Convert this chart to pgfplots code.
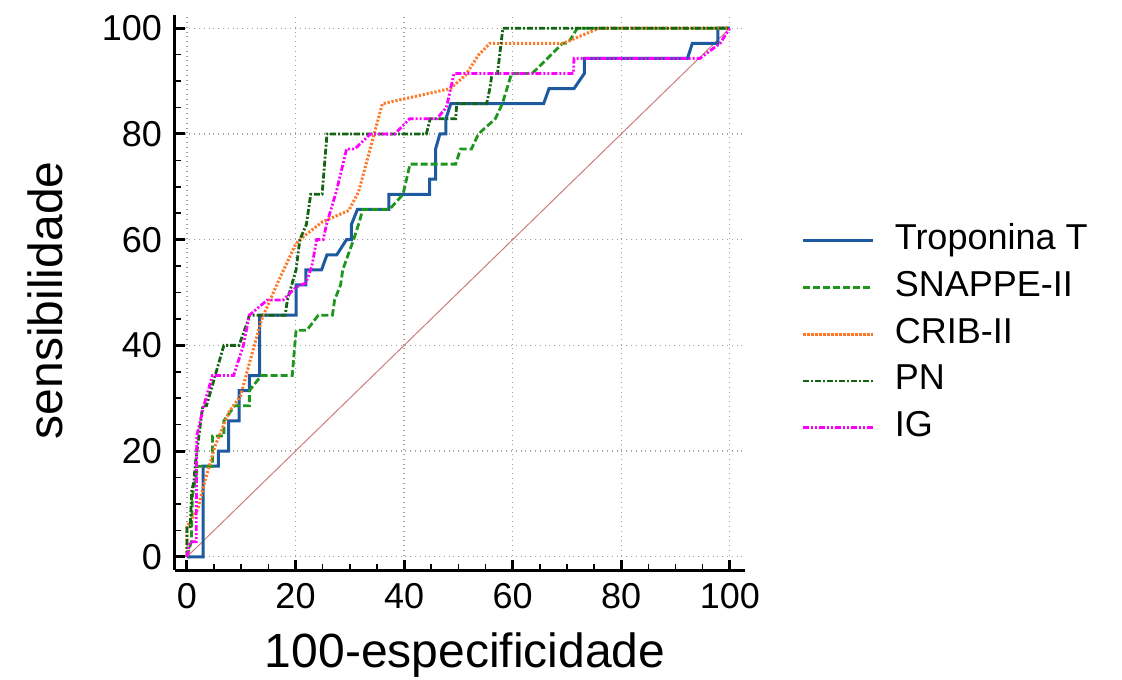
\documentclass[border=0pt]{standalone}
\usepackage{fontspec}
\setmainfont{Liberation Sans}
\usepackage{pgfplots}
\pgfplotsset{compat=1.18}
\definecolor{tropblue}{RGB}{30,90,160}
\definecolor{snappegreen}{RGB}{30,150,30}
\definecolor{cribor}{RGB}{255,120,40}
\definecolor{pngreen}{RGB}{20,100,20}
\definecolor{igmag}{RGB}{255,0,255}
\definecolor{diagred}{RGB}{205,125,125}
\begin{document}
\begin{tikzpicture}
\useasboundingbox (-87.5pt,-54.5pt) rectangle (473.5pt,285pt);
\begin{axis}[scale only axis, width=285pt, height=277.5pt,
 xmin=-2.2, xmax=102.8, ymin=-2.5, ymax=102.5,
 axis x line=bottom, axis y line=left,
 axis line style={-, line width=1.5pt},
 xtick={0,20,...,100}, ytick={0,20,...,100}, minor tick num=3,
 tick align=inside, major tick length=5pt, minor tick length=3pt,
 major tick style={line width=1.5pt, black}, minor tick style={line width=0.8pt, black},
 grid=major, major grid style={dotted, gray!75, line width=0.6pt},
 /pgf/number format/assume math mode=true,
 ticklabel style={font=\fontsize{18}{18}\selectfont},
 xticklabel style={yshift=-3pt}, yticklabel style={xshift=-3pt},
 xlabel={100-especificidade}, ylabel={sensibilidade},
 label style={font=\fontsize{24}{24}\selectfont},
 xlabel style={at={(axis description cs:0.509,-0.153)}, anchor=center},
 ylabel style={at={(axis description cs:-0.228,0.486)}, anchor=center},
 legend style={at={(axis description cs:1.099,0.425)}, anchor=west, draw=none, fill=none, inner sep=0pt,
   font=\fontsize{18}{18}\selectfont, row sep=2.4pt, column sep=8pt,
   nodes={inner sep=2pt, text height=13pt, text depth=4pt}},
 legend cell align=left,
 legend image code/.code={\draw[#1] (0pt,0pt) -- (35pt,0pt);},
]
\addplot[diagred, line width=0.5pt, forget plot] coordinates {(0,0) (100,100)};
\addplot[tropblue, line width=1.5pt] coordinates {(0,0) (3.0,0) (3.0,17.14) (5.8,17.14) (5.8,20) (7.7,20) (7.7,25.71) (9.6,25.71) (9.6,31.43) (11.5,31.43) (11.5,34.29) (13.4,34.29) (13.4,45.71) (20.1,45.71) (20.1,51.43) (21.9,51.43) (21.9,54.29) (24.8,54.29) (25.8,57.14) (27.6,57.14) (29.4,60) (30.3,60) (30.3,62.86) (31.4,65.71) (37.2,65.71) (37.2,68.57) (44.7,68.57) (44.7,71.43) (45.8,71.43) (45.8,77.14) (46.6,80) (47.7,80) (47.7,82.86) (48.6,85.71) (65.7,85.71) (66.7,88.57) (71.3,88.57) (73.2,91.43) (73.2,94.29) (92.2,94.29) (93.1,97.14) (97.8,97.14) (97.8,100) (100,100)};
\addlegendentry{Troponina T}
\addplot[snappegreen, line width=1.4pt, dash pattern=on 3.5pt off 1.5pt] coordinates {(0,0) (0.8,2.86) (1.0,11.43) (1.5,14.29) (2.0,17.14) (4.7,17.14) (4.7,22.86) (6.8,22.86) (6.8,25.71) (8.8,28.57) (11.5,28.57) (11.5,31.43) (13.7,34.29) (19.4,34.29) (20.1,42.86) (22.1,42.86) (24.2,45.71) (26.8,45.71) (27.2,48.57) (28.3,51.43) (28.7,54.29) (30.7,60) (31.6,62.86) (32.4,65.71) (37.3,65.71) (39.8,68.57) (41.1,74.29) (49.5,74.29) (50.4,77.14) (52.4,77.14) (53.7,80) (56.8,82.86) (58.1,85.71) (59.8,91.43) (63.6,91.43) (69.2,97.14) (70.2,97.14) (71.9,100) (100,100)};
\addlegendentry{SNAPPE-II}
\addplot[cribor, line width=1.5pt, dash pattern=on 1.1pt off 0.9pt] coordinates {(0,0) (0,5.71) (2.0,9.0) (3.3,14.3) (5.2,21.0) (7.8,27.5) (9.9,30.5) (11.6,37.0) (13.8,45.0) (17.0,52.5) (20.1,59.3) (22.1,61.1) (25.0,63.4) (29.8,65.5) (31.6,69.0) (36.0,85.71) (48.5,88.57) (51.3,91.1) (53.7,94.9) (55.8,97.14) (69.3,97.14) (75.9,100) (100,100)};
\addlegendentry{CRIB-II}
\addplot[pngreen, line width=1.4pt, dash pattern=on 3pt off 1pt on 1pt off 1pt] coordinates {(0,0) (0,5.71) (0.6,5.71) (0.9,12.6) (1.3,14.29) (1.5,17.14) (2.9,28.57) (3.6,28.57) (6.8,40) (9.6,40) (11.0,44.0) (11.5,45.71) (18.1,45.71) (18.5,48.57) (20.1,54.29) (20.8,60) (22.0,62.86) (22.8,68.57) (24.9,68.57) (25.8,80) (44.1,80) (44.8,82.86) (49.5,82.86) (49.7,85.71) (55.2,85.71) (55.8,88.57) (56.2,91.43) (57.2,91.43) (58.2,100) (100,100)};
\addlegendentry{PN}
\addplot[igmag, line width=1.4pt, dash pattern=on 3pt off 1pt on 1pt off 1pt on 1pt off 1pt] coordinates {(0,0) (0.6,2.86) (1.7,2.86) (1.8,22.86) (3.1,28.57) (4.7,34.29) (8.6,34.29) (10.4,40) (11.5,45.71) (14.8,48.57) (17.7,48.57) (20.1,51.0) (21.9,51.8) (23.0,54.9) (23.9,60) (25.1,60) (25.7,62.86) (27.6,69.4) (29.4,77.14) (30.9,77.14) (33.8,80) (38.3,80) (41.0,82.86) (46.0,82.86) (47.8,85.0) (49.2,91.43) (71.2,91.43) (71.3,94.29) (94.5,94.29) (98.2,97.14) (100,100)};
\addlegendentry{IG}
\end{axis}
\end{tikzpicture}
\end{document}
